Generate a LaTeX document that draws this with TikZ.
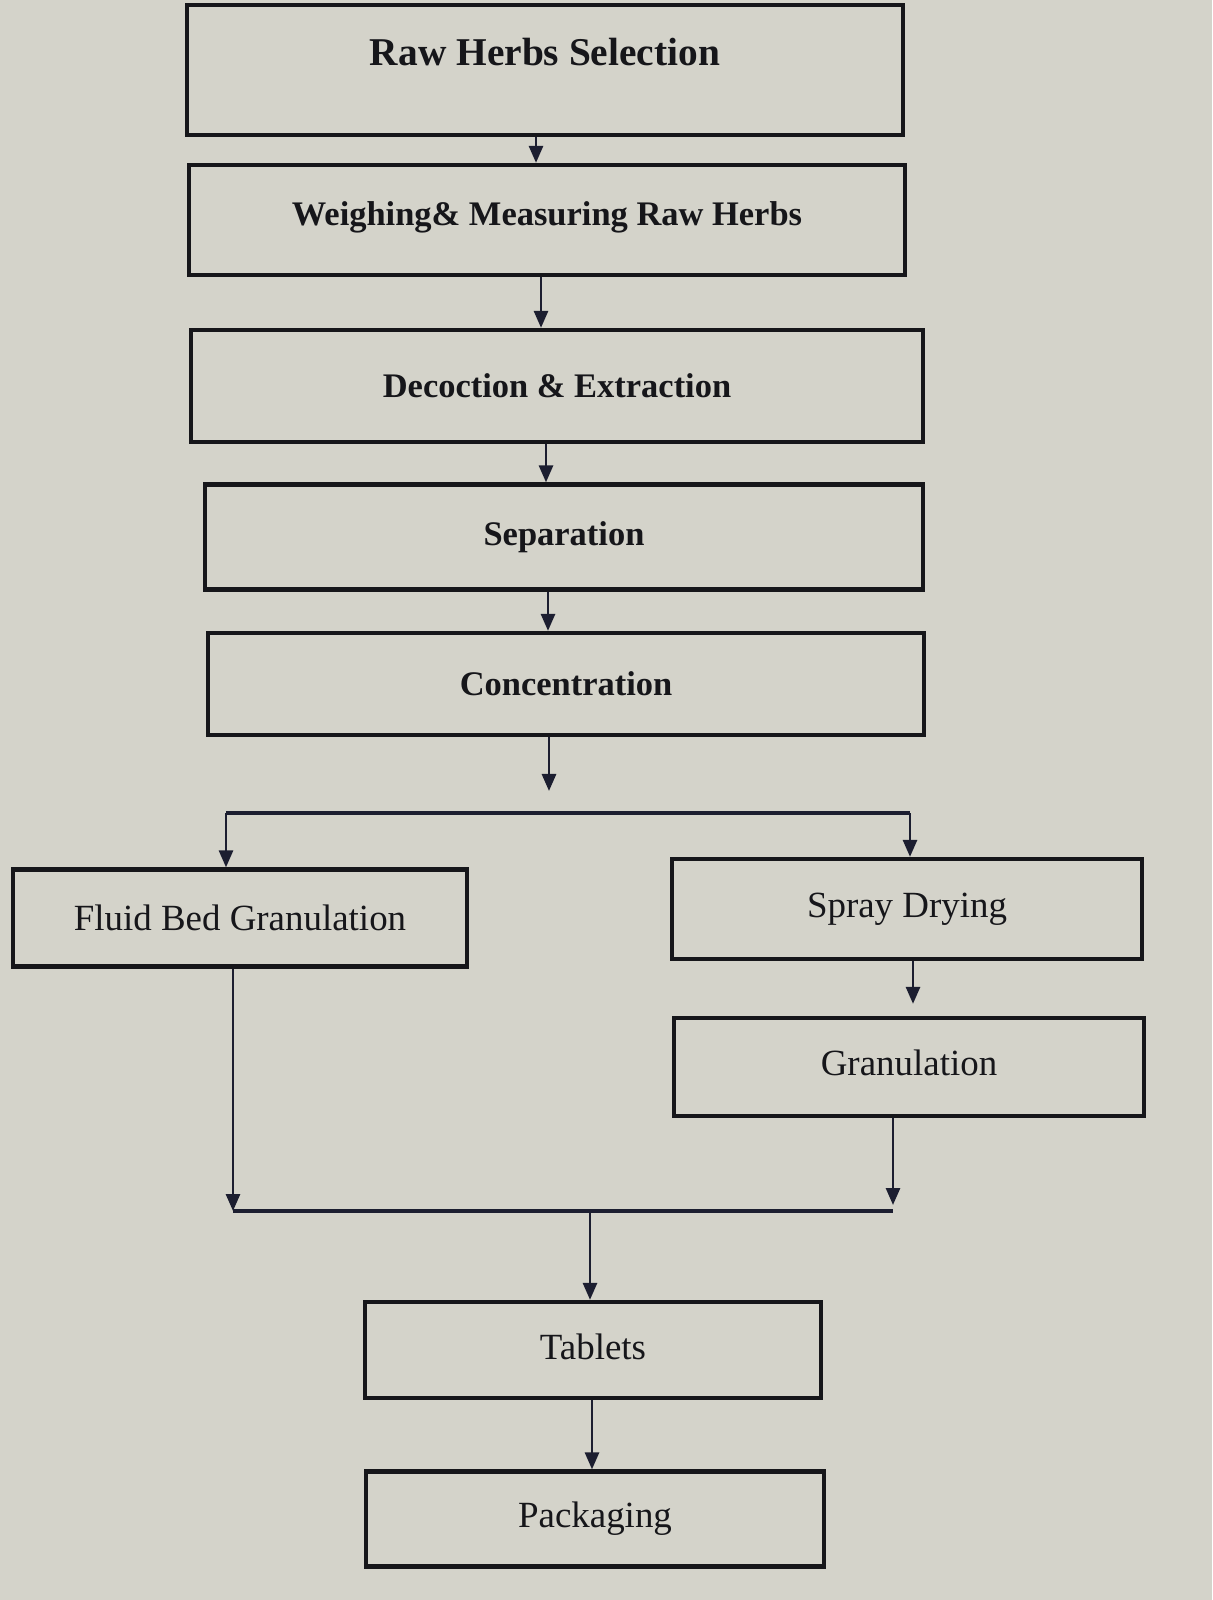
\documentclass[tikz,border=0pt]{standalone}
\usepackage{fontspec}
\setmainfont{Liberation Serif}
\usetikzlibrary{calc}
\usetikzlibrary{arrows.meta}

\definecolor{screen}{RGB}{212,211,202}
\definecolor{ink}{RGB}{22,22,26}
\definecolor{wire}{RGB}{28,30,48}

\tikzset{
  stage/.style={draw=ink, line width=1.2pt, fill=screen, text=ink, inner sep=0pt},
  headtxt/.style={font=\fontsize{9.8}{12}\selectfont\bfseries},
  plaintxt/.style={font=\fontsize{10.5}{12}\selectfont},
  flow/.style={draw=wire, line width=0.8pt, -{Triangle[length=0.17cm,width=0.14cm]}},
  link/.style={draw=wire, line width=0.9pt},
}

\begin{document}
\begin{tikzpicture}[x=0.01cm,y=-0.01cm]
\fill[screen] (0,0) rectangle (1212,1600);

% main column
\node[stage, minimum width=7.16cm, minimum height=1.30cm, font=\fontsize{11.2}{13}\selectfont\bfseries, text depth=0.37cm] (raw) at (545,70) {Raw Herbs Selection};
\node[stage, headtxt, minimum width=7.16cm, minimum height=1.10cm, text depth=0.12cm] (weigh) at (547,220) {Weighing\& Measuring Raw Herbs};
\node[stage, headtxt, minimum width=7.31cm, minimum height=1.12cm] (decoct) at (557,386) {Decoction \& Extraction};
\node[stage, headtxt, minimum width=7.18cm, minimum height=1.05cm] (separ) at (564,537) {Separation};
\node[stage, headtxt, minimum width=7.16cm, minimum height=1.02cm] (concen) at (566,684) {Concentration};

% two routes
\node[stage, plaintxt, minimum width=4.53cm, minimum height=0.97cm] (fluid) at (240,918) {Fluid Bed Granulation};
\node[stage, plaintxt, minimum width=4.69cm, minimum height=1.00cm, text depth=0.08cm] (spray) at (907,909) {Spray Drying};
\node[stage, plaintxt, minimum width=4.69cm, minimum height=0.98cm, text depth=0.08cm] (gran) at (909,1067) {Granulation};

% end of line
\node[stage, plaintxt, minimum width=4.55cm, minimum height=0.96cm, text depth=0.06cm] (tablet) at (593,1350) {Tablets};
\node[stage, plaintxt, minimum width=4.57cm, minimum height=0.95cm] (pack) at (595,1519) {Packaging};

% columns of the arrows
\coordinate (c1) at (536,0);
\coordinate (c2) at (541,0);
\coordinate (c3) at (546,0);
\coordinate (c4) at (548,0);
\coordinate (c5) at (549,0);
\coordinate (c7) at (913,0);
\coordinate (c9) at (592,0);
\coordinate (split) at (549,791);
\coordinate (bl) at (226,813);
\coordinate (br) at (910,813);
\coordinate (ml) at (233,1211);
\coordinate (mr) at (893,1211);
\coordinate (mid) at (590,1211);

\draw[flow] (raw.south -| c1) -- (weigh.north -| c1);
\draw[flow] (weigh.south -| c2) -- (decoct.north -| c2);
\draw[flow] (decoct.south -| c3) -- (separ.north -| c3);
\draw[flow] (separ.south -| c4) -- (concen.north -| c4);
\draw[flow] (concen.south -| c5) -- (split);

\draw[link] (bl) -- (br);
\draw[flow] (bl) -- (fluid.north -| bl);
\draw[flow] (br) -- (spray.north -| br);
\draw[flow, shorten >=0.12cm] (spray.south -| c7) -- (gran.north -| c7);

\draw[flow] (fluid.south -| ml) -- (ml);
\draw[flow, shorten >=0.06cm] (gran.south -| mr) -- (mr);
\draw[link] (ml) -- (mr);
\draw[flow] (mid) -- (tablet.north -| mid);
\draw[flow] (tablet.south -| c9) -- (pack.north -| c9);

\end{tikzpicture}
\end{document}
